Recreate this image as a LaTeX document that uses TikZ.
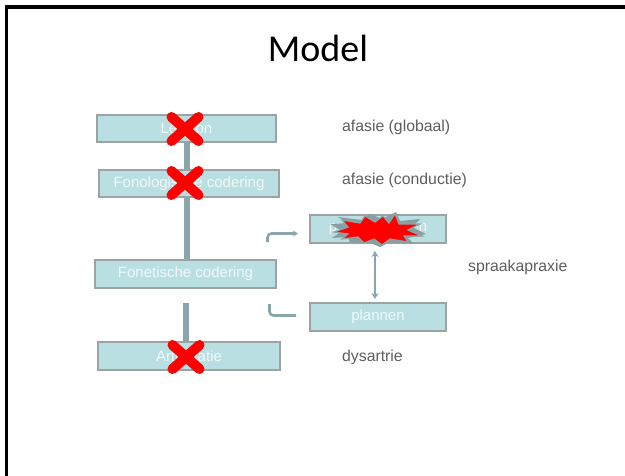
\documentclass[tikz,border=0pt]{standalone}
\usepackage{fontspec}
\setmainfont{Liberation Sans}
\newfontfamily\titlefont{Carlito}
\usetikzlibrary{arrows.meta}
\definecolor{boxfill}{HTML}{BADFE2}
\definecolor{boxline}{HTML}{9BA3A4}
\definecolor{conncol}{HTML}{8AA6A9}
\definecolor{lblcol}{HTML}{5E5E5E}
\begin{document}
\begin{tikzpicture}[x=1pt,y=-1pt,
  box/.style={draw=boxline, line width=1.8pt, fill=boxfill, minimum height=27pt,
    inner sep=0pt, text=white!80!boxfill, font=\fontsize{15}{15}\selectfont},
  lbl/.style={anchor=west, text=lblcol, inner sep=0pt, font=\fontsize{15.8}{16}\selectfont},
  vconn/.style={draw=conncol, line width=6pt},
  bentconn/.style={draw=conncol, line width=2.6pt, rounded corners=4pt},
  cross/.style={draw=red, line width=10pt, line cap=round},
]
\useasboundingbox (0,0) rectangle (625,475);
% frame
\draw[line width=3.5pt] (6.5,476) -- (6.5,7.2) -- (626,7.2);
% title
\node[font=\titlefont\fontsize{38}{38}\selectfont] (title) at (318,48) {Model};
% left boxes
\node[box, minimum width=179pt] (b1) at (186.5,128.5) {Lexicon};
\node[box, minimum width=180pt] (b2) at (189,183.5) {Fonologische codering};
\node[box, minimum width=181pt, minimum height=28pt] (b3) at (185.5,274) {Fonetische codering};
\node[box, minimum width=182pt, minimum height=28pt] (b4) at (189,356) {Articulatie};
% right boxes
\node[box, minimum width=136pt, minimum height=28pt] (r1) at (378,229) {programmeren};
\node[box, minimum width=136pt, minimum height=28pt] (r2) at (378,317) {plannen};
% vertical connectors
\draw[vconn] (187,142) coordinate (c1) -- (c1 |- b2.north);
\draw[vconn] (187,197) coordinate (c2) -- (c2 |- b3.north);
\coordinate (c3) at (186,303);
\draw[vconn] (c3) -- (c3 |- b4.north);
% double arrow
\coordinate (d1) at (375,251);
\coordinate (d2) at (375,299);
\draw[draw=conncol, line width=2.6pt, {Stealth[length=6pt,width=7pt]}-{Stealth[length=6pt,width=7pt]}] (d1) -- (d2);
% bent arrows
\coordinate (a1) at (267.5,242);
\coordinate (a2) at (298,233.5);
\draw[bentconn, -{Stealth[length=5pt,width=6pt]}] (a1) -- (a1 |- a2) -- (a2);
\coordinate (e1) at (269.5,304);
\coordinate (e2) at (296,315.5);
\draw[bentconn] (e1) -- (e1 |- e2) -- (e2);
% labels
\node[lbl] (l1) at (342,127) {afasie (globaal)};
\node[lbl] (l2) at (342,180) {afasie (conductie)};
\node[lbl] (l3) at (468,267) {spraakapraxie};
\node[lbl] (l4) at (342,357) {dysartrie};
% red crosses
\foreach \cx/\cy in {185/129, 185/183, 186/357} {
  \draw[cross] (\cx-13.5,\cy-12) -- (\cx+13.5,\cy+12);
  \draw[cross] (\cx-13.5,\cy+12) -- (\cx+13.5,\cy-12);
}
% explosion
\begin{scope}[shift={(378,230)}]
\fill[conncol!80!gray]
 (-48,-6) -- (-30,-7) -- (-40,-13) -- (-16,-10) -- (-8,-16) -- (4,-11) -- (18,-18)
 -- (22,-9) -- (42,-11) -- (34,-3) -- (48,4) -- (30,8) -- (36,14) -- (12,12)
 -- (2,17) -- (-10,12) -- (-28,13) -- (-30,7) -- (-46,8) -- (-36,1) -- cycle;
\draw[fill=red, draw=conncol, line width=1.2pt, line join=miter]
 (-44,2) -- (-30,-3) -- (-36,-10) -- (-18,-7) -- (-13,-14) -- (-3,-8) -- (5,-14)
 -- (11,-7) -- (17,-16) -- (21,-6) -- (42,-6) -- (30,0) -- (44,6) -- (26,6)
 -- (30,12) -- (12,9) -- (4,15) -- (-4,9) -- (-14,13) -- (-20,7) -- (-36,9) -- (-30,4) -- cycle;
\end{scope}
\end{tikzpicture}
\end{document}
